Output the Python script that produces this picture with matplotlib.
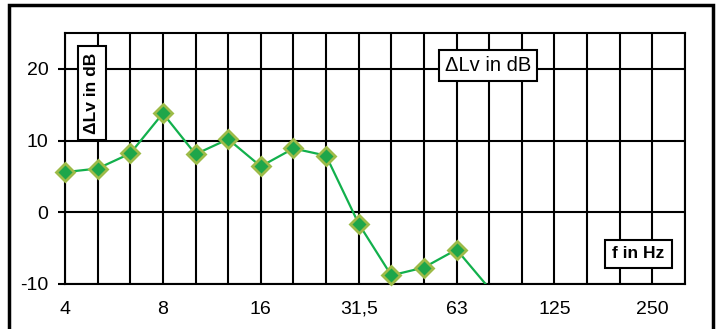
import numpy as np
import matplotlib.pyplot as plt
from matplotlib.patches import Rectangle

plt.rcParams['font.family'] = ['Liberation Sans', 'DejaVu Sans']

# third-octave band centre frequencies (Hz)
bands = ["4", "5", "6,3", "8", "10", "12,5", "16", "20", "25", "31,5",
         "40", "50", "63", "80", "100", "125", "160", "200", "250", "315"]
# level difference per band (dB), last value drops below the axis
delta_lv = [5.6, 6.1, 8.2, 13.8, 8.1, 10.2, 6.4, 8.9, 7.9, -1.6,
            -8.8, -7.7, -5.2, -10.6]
labelled = ["4", "8", "16", "31,5", "63", "125", "250"]

W, H = 717, 329
fig = plt.figure(figsize=(W / 100, H / 100), dpi=100)
ax = fig.add_axes([65 / W, 1 - 284 / H, 620 / W, 251 / H])

idx = np.arange(len(bands))
ax.set_xlim(0, len(bands) - 1)
ax.set_ylim(-10, 25)

ax.set_xticks(idx)
ax.set_xticklabels([b if b in labelled else "" for b in bands], fontsize=14)
ax.set_yticks([-10, 0, 10, 20])
ax.set_yticklabels(["-10", "0", "10", "20"], fontsize=14)
ax.tick_params(axis='x', length=0, pad=12)
ax.tick_params(axis='y', length=5, width=1.5, pad=7)

ax.grid(True, color='black', linewidth=1.5)
ax.set_axisbelow(True)
for s in ax.spines.values():
    s.set_linewidth(1.5)

x = idx[:len(delta_lv)]
y = np.array(delta_lv)
# line is clipped at the axis, markers only where the value is on the scale
ax.plot(x, y, color='#12b04c', linewidth=1.6, zorder=3)
vis = y >= -10
ax.plot(x[vis], y[vis], linestyle='none', marker='D', markersize=9.5,
        markerfacecolor='#1ea64a', markeredgecolor='#9dbb48',
        markeredgewidth=2, zorder=4, clip_on=False)


def label_box(x0, y0, x1, y1, text, **kw):
    fig.patches.append(Rectangle((x0 / W, 1 - y1 / H), (x1 - x0) / W, (y1 - y0) / H,
                                 transform=fig.transFigure, facecolor='white',
                                 edgecolor='black', linewidth=1.5, zorder=5))
    fig.text((x0 + x1) / 2 / W, 1 - (y0 + y1) / 2 / H, text, ha='center',
             va='center', zorder=6, **kw)


label_box(78, 46, 106, 140, "ΔLv in dB", rotation=90, fontsize=12.5, fontweight='bold')
label_box(439, 50, 537, 81, "ΔLv in dB", fontsize=14.5)
label_box(605, 240, 672, 268, "f in Hz", fontsize=12.5, fontweight='bold')

# outer frame around the whole chart
fig.patches.append(Rectangle((9 / W, -0.05), 704 / W, 1.05 - 5 / H,
                             transform=fig.transFigure, fill=False,
                             edgecolor='black', linewidth=2.5))

fig.savefig("out.png", dpi=100)
